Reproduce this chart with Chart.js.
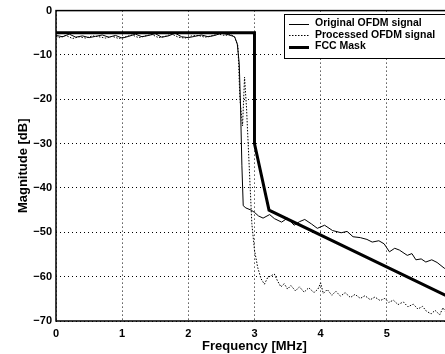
<!DOCTYPE html>
<html>
<head>
<meta charset="utf-8">
<script src="https://cdn.jsdelivr.net/npm/chart.js@4.4.1/dist/chart.umd.min.js"></script>
<style>
  html, body { margin: 0; padding: 0; background: #fff; overflow: hidden; }
  #wrap { width: 462px; height: 354px; }
</style>
</head>
<body>
<div id="wrap"><canvas id="c" width="462" height="354"></canvas></div>
<script>
// values
const origFreq = [0, 0.1, 0.2, 0.3, 0.4, 0.5, 0.6, 0.7, 0.8, 0.9, 1.0, 1.1, 1.2, 1.3, 1.4, 1.5, 1.6, 1.7, 1.8, 1.9, 2.0, 2.1, 2.2, 2.3, 2.4, 2.5, 2.6, 2.7,
  2.74, 2.77, 2.79, 2.81, 2.83, 2.87, 2.95, 3.0, 3.06, 3.13, 3.23, 3.3, 3.41, 3.5, 3.6, 3.68, 3.76, 3.86, 3.95, 4.06, 4.18, 4.31, 4.4, 4.49,
  4.6, 4.7, 4.78, 4.88, 4.96, 5.04, 5.12, 5.19, 5.31, 5.38, 5.44, 5.52, 5.59, 5.68, 5.76, 5.87, 6.0];
const origMag = [-5.6, -5.9, -5.3, -6.0, -5.7, -6.1, -5.8, -5.5, -6.0, -5.6, -6.2, -5.8, -5.3, -5.9, -5.6, -5.2, -6.0, -5.7, -5.1, -5.9, -6.1, -5.8, -5.5, -5.9, -5.6, -5.1, -5.4, -5.9,
  -7.5, -12, -22, -35, -44, -44.5, -45, -45.5, -46.3, -46.8, -46.0, -46.9, -47.7, -46.8, -48.4, -47.6, -47.1, -48.1, -49.1, -48.4, -49.6, -50.1, -49.8, -51.0,
  -51.2, -51.6, -52.2, -51.9, -52.6, -54.4, -53.6, -54.0, -55.2, -54.8, -56.2, -56.0, -56.7, -56.2, -56.8, -58.1, -59.0];

const procFreq = [0, 0.05, 0.15, 0.25, 0.35, 0.45, 0.55, 0.65, 0.75, 0.85, 0.95, 1.05, 1.15, 1.25, 1.35, 1.45, 1.55, 1.65, 1.75, 1.85, 1.95, 2.05, 2.15, 2.25, 2.35, 2.45, 2.55, 2.65, 2.7,
  2.75, 2.78, 2.82, 2.85, 2.88, 2.92, 2.96, 3.0, 3.05, 3.1, 3.15, 3.2, 3.25, 3.3, 3.35, 3.4, 3.45, 3.5, 3.55, 3.62, 3.68, 3.75, 3.82, 3.9, 3.96,
  4.0, 4.04, 4.1, 4.17, 4.23, 4.3, 4.37, 4.45, 4.52, 4.6, 4.67, 4.75, 4.82, 4.9, 4.97, 5.03, 5.1, 5.17, 5.25, 5.32, 5.4, 5.47, 5.54, 5.6, 5.67,
  5.73, 5.8, 5.85, 5.9, 6.0];
const procMag = [-5.8, -6.1, -5.6, -6.3, -5.9, -6.2, -5.7, -5.9, -6.2, -5.8, -6.3, -5.9, -5.5, -6.1, -5.7, -5.4, -6.1, -5.8, -5.3, -6.0, -6.2, -5.7, -5.6, -6.0, -5.7, -5.3, -5.6, -5.4, -6.0,
  -8, -20, -26, -15, -22, -35, -48, -54, -58, -60.5, -61.7, -60.2, -59.8, -59.4, -61.0, -62.3, -61.6, -62.8, -62.0, -63.2, -62.3, -63.5, -62.5, -63.6, -62.8,
  -61.4, -63.8, -62.9, -64.2, -63.3, -64.4, -63.6, -64.7, -64.0, -64.9, -64.3, -65.2, -64.6, -65.4, -64.9, -65.8, -65.3, -66.3, -65.7, -66.8, -66.2, -67.3, -66.7, -67.8, -68.4,
  -67.6, -68.6, -67.0, -68.2, -68.5];

const maskFreq = [0, 3.0, 3.0, 3.22, 6.0];
const maskMag = [-5, -5, -30, -45, -65];

const xTicks = [0, 1, 2, 3, 4, 5, 6];
const yTicks = [-70, -60, -50, -40, -30, -20, -10, 0];

function toPoints(xs, ys) {
    return xs.map((x, i) => ({ x: x, y: ys[i] }));
}

const FONT = "'Liberation Sans', Arial, sans-serif";

// matlab style box legend in the top right corner
const boxLegend = {
    id: 'boxLegend',
    afterDraw(chart) {
        const ctx = chart.ctx;
        const left = 284, top = 14, bottom = 58;
        ctx.save();
        ctx.fillStyle = '#fff';
        ctx.fillRect(left, top, chart.width - left, bottom - top);
        ctx.strokeStyle = '#000';
        ctx.lineWidth = 1;
        ctx.strokeRect(left + 0.5, top + 0.5, chart.width, bottom - top);
        ctx.font = 'bold 10.5px ' + FONT;
        ctx.textBaseline = 'middle';
        chart.data.datasets.forEach((ds, i) => {
            const y = 23.5 + i * 11.5;
            ctx.beginPath();
            ctx.setLineDash(ds.borderDash || []);
            ctx.lineWidth = ds.borderWidth;
            ctx.moveTo(289, Math.round(y) + 0.5);
            ctx.lineTo(309, Math.round(y) + 0.5);
            ctx.stroke();
            ctx.setLineDash([]);
            ctx.fillStyle = '#000';
            ctx.fillText(ds.label, 315, y);
        });
        ctx.restore();
    }
};

// solid frame round the plot area
const frame = {
    id: 'frame',
    beforeDatasetsDraw(chart) {
        const a = chart.chartArea;
        const ctx = chart.ctx;
        ctx.save();
        ctx.strokeStyle = '#000';
        ctx.lineWidth = 1.5;
        ctx.strokeRect(a.left, a.top, a.right - a.left, a.bottom - a.top);
        ctx.restore();
    }
};

const minus = (v) => String(v).replace('-', '\u2212');

new Chart(document.getElementById('c'), {
    type: 'line',
    data: {
        datasets: [
            {
                label: 'Original OFDM signal',
                data: toPoints(origFreq, origMag),
                borderColor: '#000',
                borderWidth: 1,
                pointRadius: 0
            },
            {
                label: 'Processed OFDM signal',
                data: toPoints(procFreq, procMag),
                borderColor: '#000',
                borderWidth: 1,
                borderDash: [1.5, 1.5],
                pointRadius: 0
            },
            {
                label: 'FCC Mask',
                data: toPoints(maskFreq, maskMag),
                borderColor: '#000',
                borderWidth: 3,
                pointRadius: 0
            }
        ]
    },
    options: {
        responsive: false,
        animation: false,
        layout: { padding: { left: 0, top: 10, right: 8, bottom: 0 } },
        plugins: {
            legend: { display: false },
            tooltip: { enabled: false }
        },
        scales: {
            x: {
                type: 'linear',
                min: 0,
                max: 6,
                afterBuildTicks: (s) => { s.ticks = xTicks.map(v => ({ value: v })); },
                afterFit: (s) => { s.height = 33; },
                grid: { color: '#000', lineWidth: 1, drawTicks: false },
                border: { display: false, dash: [1, 3] },
                ticks: { color: '#000', padding: 6, font: { family: FONT, size: 11, weight: 'bold' } },
                title: { display: true, text: 'Frequency [MHz]', color: '#000', padding: { top: 0, bottom: 0 }, font: { family: FONT, size: 13, weight: 'bold' } }
            },
            y: {
                min: -70,
                max: 0,
                afterBuildTicks: (s) => { s.ticks = yTicks.map(v => ({ value: v })); },
                afterFit: (s) => { s.width = 56; },
                grid: { color: '#000', lineWidth: 1, drawTicks: false },
                border: { display: false, dash: [1, 3] },
                ticks: { color: '#000', padding: 4, callback: minus, font: { family: FONT, size: 11, weight: 'bold' } },
                title: { display: true, text: 'Magnitude [dB]', color: '#000', padding: { top: 16, bottom: 0 }, font: { family: FONT, size: 13, weight: 'bold' } }
            }
        }
    },
    plugins: [frame, boxLegend]
});
</script>
</body>
</html>
